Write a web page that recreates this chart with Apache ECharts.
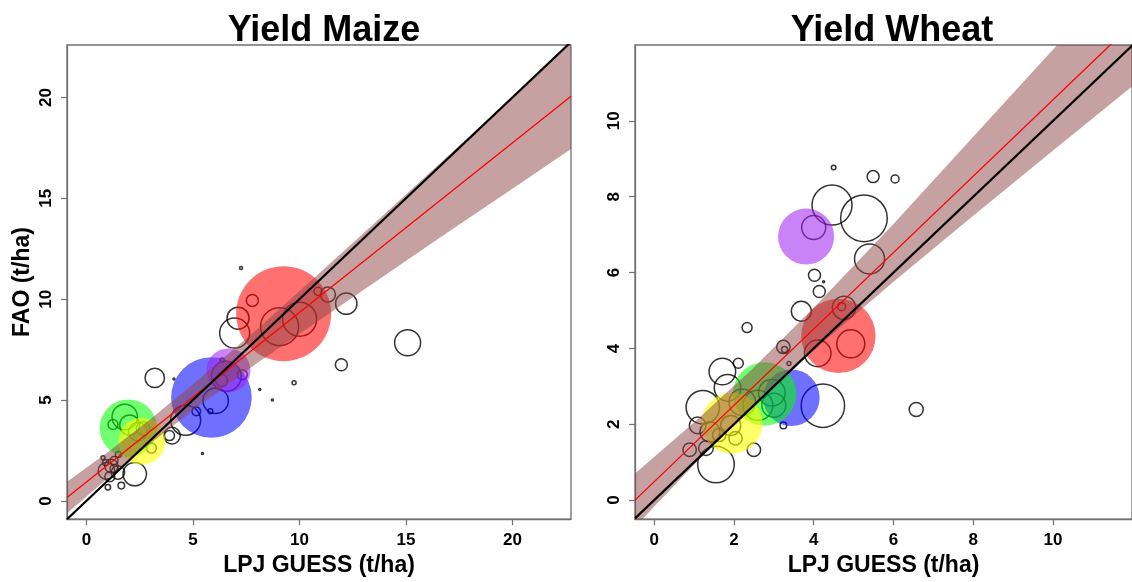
<!DOCTYPE html>
<html>
<head>
<meta charset="utf-8">
<title>Yield Maize / Yield Wheat</title>
<script src="https://cdn.jsdelivr.net/npm/echarts@6/dist/echarts.min.js"></script>
<style>
  html, body { margin: 0; padding: 0; background: #fff; }
  #chart { width: 1132px; height: 582px; }
</style>
</head>
<body>
<div id="chart"></div>
<script>
'use strict';

// ---- data (t/ha) ----
var panelTitles = ['Yield Maize', 'Yield Wheat'];
var xName = 'LPJ GUESS (t/ha)';
var yName = 'FAO (t/ha)';

var maizeTicks = [0, 5, 10, 15, 20];
var wheatTicks = [0, 2, 4, 6, 8, 10];

// country points: LPJ GUESS, FAO, relative weight (bubble radius)
var maizeX = [7.26, 7.79, 7.12, 6.96, 9.07, 10.01, 10.87, 11.34, 12.2, 11.97, 9.75, 8.14, 15.08,
  3.21, 4.11, 8.73, 5.45, 5.16, 5.82, 6.07, 4.66, 4.02, 3.9, 6.57, 7.32, 6.35, 6.38,
  1.8, 2.03, 2.42, 2.66, 3.05, 1.25, 1.17, 0.94, 1.48, 2.27, 0.78, 1.01, 1.64, 1.3, 1.1,
  0.9, 1.5, 1.3];
var maizeY = [11.55, 9.94, 9.06, 8.32, 8.64, 9.01, 10.39, 10.23, 9.78, 6.75, 5.86, 5.53, 7.84,
  6.1, 6.05, 5.0, 2.35, 4.44, 4.45, 4.97, 4.0, 3.24, 3.24, 6.18, 6.26, 5.97, 6.99,
  4.16, 3.76, 3.43, 3.59, 2.62, 3.79, 1.73, 1.49, 1.41, 1.33, 2.14, 0.68, 0.76, 2.0, 1.2,
  1.9, 2.3, 1.6];
var maizeW = [1.5, 6, 11, 15, 19, 17, 4, 7.5, 10.7, 6, 2, 1, 13,
  9.7, 1, 1, 1, 4.3, 2.5, 12.7, 15, 8.3, 5, 15, 5, 6, 2,
  12.7, 10, 9.3, 6.7, 5, 5, 6.7, 8.3, 6.7, 11.7, 2, 2.7, 3.3, 4, 5,
  3, 3, 4];

var wheatX = [4.0, 4.46, 5.26, 5.4, 4.5, 5.49, 6.04, 4.02, 4.14, 4.25, 2.33, 3.69, 4.76, 4.7,
  4.93, 4.1, 3.24, 3.27, 3.38, 4.23, 3.24, 1.71, 2.11, 1.84, 1.22, 1.09, 0.89, 1.55,
  2.5, 1.3, 2.95, 2.21, 1.92, 2.04, 1.63, 6.57, 2.6, 3.0, 1.4];
var wheatY = [7.19, 7.78, 7.43, 6.36, 8.77, 8.53, 8.47, 5.93, 5.5, 5.76, 4.55, 4.98, 5.07, 5.1,
  4.12, 3.87, 4.04, 3.97, 3.6, 2.49, 1.97, 3.39, 3.61, 2.96, 2.45, 1.97, 1.33, 0.94,
  1.33, 1.37, 2.83, 2.58, 1.97, 1.63, 1.72, 2.39, 2.5, 2.5, 1.8];
var wheatW = [12, 20, 23.3, 15, 2.3, 6, 4, 6, 6, 1, 5, 10, 11.7, 4,
  14, 13.3, 6.7, 3, 2, 21.7, 3.3, 13.3, 5, 13.3, 16.7, 8.3, 6.7, 18.3,
  6.7, 7.3, 13.3, 13.3, 10, 6.7, 6.7, 7, 15, 12, 10];

// highlighted regions (drawn filled)
var maizeHlX = [9.26, 5.87, 6.67, 1.97, 2.61];
var maizeHlY = [9.28, 5.13, 6.47, 3.61, 2.96];
var maizeHlW = [47.5, 40.3, 22, 28.7, 23.5];
var wheatHlX = [4.62, 3.44, 3.81, 2.77, 1.95];
var wheatHlY = [4.33, 2.70, 6.95, 2.80, 2.03];
var wheatHlW = [37.2, 28.3, 28, 31.7, 30.5];

// regression fit (red) and its confidence band
var maizeFitX = [-0.91, 22.75];
var maizeFitY = [0.17, 20.06];
var maizeBandX = [-0.91, 1, 3, 5, 8, 11, 14, 17, 20, 22.75];
var maizeBandLo = [-0.61, 1.13, 2.85, 4.49, 6.82, 9.01, 11.18, 13.34, 15.48, 17.45];
var maizeBandHi = [0.95, 2.41, 4.05, 5.79, 8.50, 11.35, 14.22, 17.12, 20.02, 22.68];

var wheatFitX = [-0.48, 12];
var wheatFitY = [0.0, 12.57];
var wheatBandX = [-0.48, 1, 2.5, 4, 6, 8, 10, 12];
var wheatBandLo = [-0.70, 0.93, 2.5, 3.95, 5.76, 7.50, 9.22, 10.92];
var wheatBandHi = [0.70, 2.05, 3.5, 5.07, 7.28, 9.58, 11.88, 14.2];

// ---- style ----
var FONT = '"Liberation Sans", Arial, sans-serif';
var AXIS_GREY = '#707070';
var hlColors = ['rgba(255,0,0,0.7)', 'rgba(0,0,255,0.7)', 'rgba(160,32,240,0.7)',
  'rgba(0,255,0,0.7)', 'rgba(255,255,0,0.75)'];
var bandColor = 'rgba(139,68,68,0.5)';

function zip(xs, ys, ws) {
  return xs.map(function(x, i) {
    return ws ? [x, ys[i], ws[i]] : [x, ys[i]];
  });
}

function makeAxes(i, ticks, xr, yr, withYName) {
  var labelStyle = {fontFamily: FONT, fontWeight: 'bold', fontSize: 17, color: '#000'};
  var nameStyle = {fontFamily: FONT, fontWeight: 'bold', fontSize: 23, color: '#000'};
  var line = {show: true, onZero: false, lineStyle: {color: AXIS_GREY, width: 1.3}};
  var tick = {show: true, length: 6, customValues: ticks, lineStyle: {color: AXIS_GREY, width: 1.2}};
  return {
    x: {
      type: 'value', gridIndex: i, min: xr[0], max: xr[1],
      axisLine: line, axisTick: tick, splitLine: {show: false},
      axisLabel: Object.assign({customValues: ticks, margin: 13}, labelStyle),
      name: xName, nameLocation: 'middle', nameGap: 32, nameTextStyle: nameStyle
    },
    y: {
      type: 'value', gridIndex: i, min: yr[0], max: yr[1],
      axisLine: line, axisTick: tick, splitLine: {show: false},
      axisLabel: Object.assign({customValues: ticks, margin: 12, rotate: 90}, labelStyle),
      name: withYName ? yName : '', nameLocation: 'middle', nameGap: 33, nameTextStyle: nameStyle
    }
  };
}

function makeSeries(i, pts, hl, fit, band, diag) {
  var bandSeries = {
    type: 'custom', xAxisIndex: i, yAxisIndex: i, z: 4, clip: true, silent: true,
    data: [[band.x[0], band.lo[0]]],
    renderItem: function(params, api) {
      var poly = [];
      band.x.forEach(function(x, k) { poly.push(api.coord([x, band.hi[k]])); });
      for (var k = band.x.length - 1; k >= 0; k--) {
        poly.push(api.coord([band.x[k], band.lo[k]]));
      }
      var cs = params.coordSys;
      return {
        type: 'polygon',
        shape: {points: poly},
        style: {fill: bandColor},
        clipPath: {type: 'rect', shape: {x: cs.x, y: cs.y, width: cs.width, height: cs.height}}
      };
    }
  };
  return [
    {
      type: 'scatter', xAxisIndex: i, yAxisIndex: i, z: 2, silent: true,
      data: pts,
      symbolSize: function(v) { return v[2] * 2; },
      itemStyle: {color: 'rgba(0,0,0,0)', borderColor: '#000', borderWidth: 1.5}
    },
    {
      type: 'scatter', xAxisIndex: i, yAxisIndex: i, z: 3, silent: true,
      data: hl.map(function(p, k) {
        return {value: p, itemStyle: {color: hlColors[k]}};
      }),
      symbolSize: function(v) { return v[2] * 2; }
    },
    bandSeries,
    {
      type: 'line', xAxisIndex: i, yAxisIndex: i, z: 5, silent: true, symbol: 'none',
      data: fit, lineStyle: {color: '#ff0000', width: 1.3}
    },
    {
      type: 'line', xAxisIndex: i, yAxisIndex: i, z: 6, silent: true, symbol: 'none',
      data: diag, lineStyle: {color: '#000', width: 2.2}
    }
  ];
}

var maizeAxes = makeAxes(0, maizeTicks, [-0.91, 22.75], [-0.9, 22.6], true);
var wheatAxes = makeAxes(1, wheatTicks, [-0.48, 11.98], [-0.5, 12.0], false);

var option = {
  animation: false,
  backgroundColor: '#fff',
  title: panelTitles.map(function(t, i) {
    return {
      text: t, left: i === 0 ? 319 : 887, top: 8, textAlign: 'center',
      textStyle: {fontFamily: FONT, fontWeight: 'bold', fontSize: 36, color: '#000'}
    };
  }),
  grid: [
    {left: 67, top: 45, width: 504, height: 484, show: true, borderColor: AXIS_GREY, borderWidth: 1.3},
    {left: 635, top: 45, width: 504, height: 484, show: true, borderColor: AXIS_GREY, borderWidth: 1.3}
  ],
  xAxis: [maizeAxes.x, wheatAxes.x],
  yAxis: [maizeAxes.y, wheatAxes.y],
  series: [].concat(
    makeSeries(0, zip(maizeX, maizeY, maizeW), zip(maizeHlX, maizeHlY, maizeHlW),
      zip(maizeFitX, maizeFitY), {x: maizeBandX, lo: maizeBandLo, hi: maizeBandHi},
      [[-0.91, -0.91], [22.75, 22.75]]),
    makeSeries(1, zip(wheatX, wheatY, wheatW), zip(wheatHlX, wheatHlY, wheatHlW),
      zip(wheatFitX, wheatFitY), {x: wheatBandX, lo: wheatBandLo, hi: wheatBandHi},
      [[-0.48, -0.48], [12, 12]])
  )
};

var chart = echarts.init(document.getElementById('chart'), null, {renderer: 'canvas'});
chart.setOption(option);
</script>
</body>
</html>
